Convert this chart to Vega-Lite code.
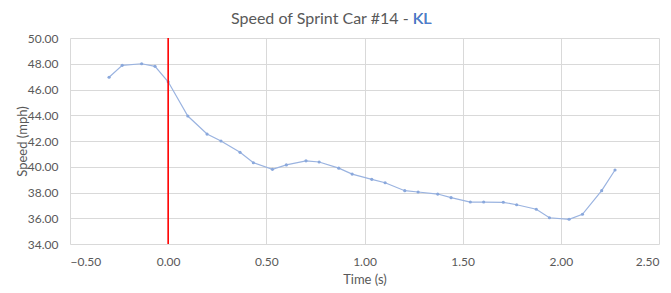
{
  "$schema": "https://vega.github.io/schema/vega-lite/v6.json",
  "width": 589,
  "height": 206,
  "autosize": {"type": "none"},
  "padding": {"left": 70, "top": 38, "right": 12, "bottom": 49},
  "background": "white",
  "config": {
    "font": "Lato",
    "view": {"stroke": null},
    "axis": {
      "labelColor": "#595959",
      "titleColor": "#595959",
      "labelFontSize": 12,
      "titleFontSize": 13,
      "titleFontWeight": "normal",
      "gridColor": "#d9d9d9",
      "gridWidth": 1,
      "ticks": false,
      "domain": false
    }
  },
  "title": {
    "text": "Speed of Sprint Car #14 - KL",
    "subtitle": "KL",
    "anchor": "middle",
    "align": "right",
    "dx": 67,
    "fontSize": 16,
    "fontWeight": "normal",
    "color": "#595959",
    "subtitleFontSize": 16,
    "subtitleColor": "#4a7fd6",
    "subtitlePadding": -16,
    "offset": 5
  },
  "datasets": {
    "speed": [
      {"time": -0.301, "speed": 46.95},
      {"time": -0.234, "speed": 47.88},
      {"time": -0.135, "speed": 48.0},
      {"time": -0.067, "speed": 47.8},
      {"time": 0.0, "speed": 46.6},
      {"time": 0.1, "speed": 43.94},
      {"time": 0.198, "speed": 42.54},
      {"time": 0.269, "speed": 42.0},
      {"time": 0.366, "speed": 41.12},
      {"time": 0.434, "speed": 40.31},
      {"time": 0.531, "speed": 39.8},
      {"time": 0.602, "speed": 40.14},
      {"time": 0.702, "speed": 40.46},
      {"time": 0.769, "speed": 40.37},
      {"time": 0.869, "speed": 39.89},
      {"time": 0.937, "speed": 39.43},
      {"time": 1.037, "speed": 39.02},
      {"time": 1.105, "speed": 38.76},
      {"time": 1.205, "speed": 38.14},
      {"time": 1.273, "speed": 38.04},
      {"time": 1.373, "speed": 37.88},
      {"time": 1.441, "speed": 37.6},
      {"time": 1.539, "speed": 37.26},
      {"time": 1.607, "speed": 37.26},
      {"time": 1.707, "speed": 37.24},
      {"time": 1.775, "speed": 37.05},
      {"time": 1.875, "speed": 36.7},
      {"time": 1.942, "speed": 36.04},
      {"time": 2.042, "speed": 35.92},
      {"time": 2.11, "speed": 36.31},
      {"time": 2.208, "speed": 38.14},
      {"time": 2.276, "speed": 39.75}
    ],
    "marker": [{"time": 0}]
  },
  "layer": [
    {
      "data": {"name": "speed"},
      "mark": {"type": "line", "color": "#9ab3e0", "strokeWidth": 1.2, "point": {"filled": true, "size": 10, "color": "#8aa8dc"}},
      "encoding": {
        "x": {
          "field": "time", "type": "quantitative",
          "scale": {"domain": [-0.5, 2.5], "nice": false},
          "axis": {"values": [-0.5, 0, 0.5, 1, 1.5, 2, 2.5], "format": ".2f", "title": "Time (s)", "labelPadding": 12, "titlePadding": 6}
        },
        "y": {
          "field": "speed", "type": "quantitative",
          "scale": {"domain": [34, 50], "nice": false, "zero": false},
          "axis": {"values": [34, 36, 38, 40, 42, 44, 46, 48, 50], "format": ".2f", "title": "Speed (mph)", "labelPadding": 12, "titlePadding": -2}
        }
      }
    },
    {
      "data": {"name": "marker"},
      "mark": {"type": "rule", "color": "#ff0000", "strokeWidth": 1.6},
      "encoding": {
        "x": {"field": "time", "type": "quantitative"}
      }
    }
  ]
}
